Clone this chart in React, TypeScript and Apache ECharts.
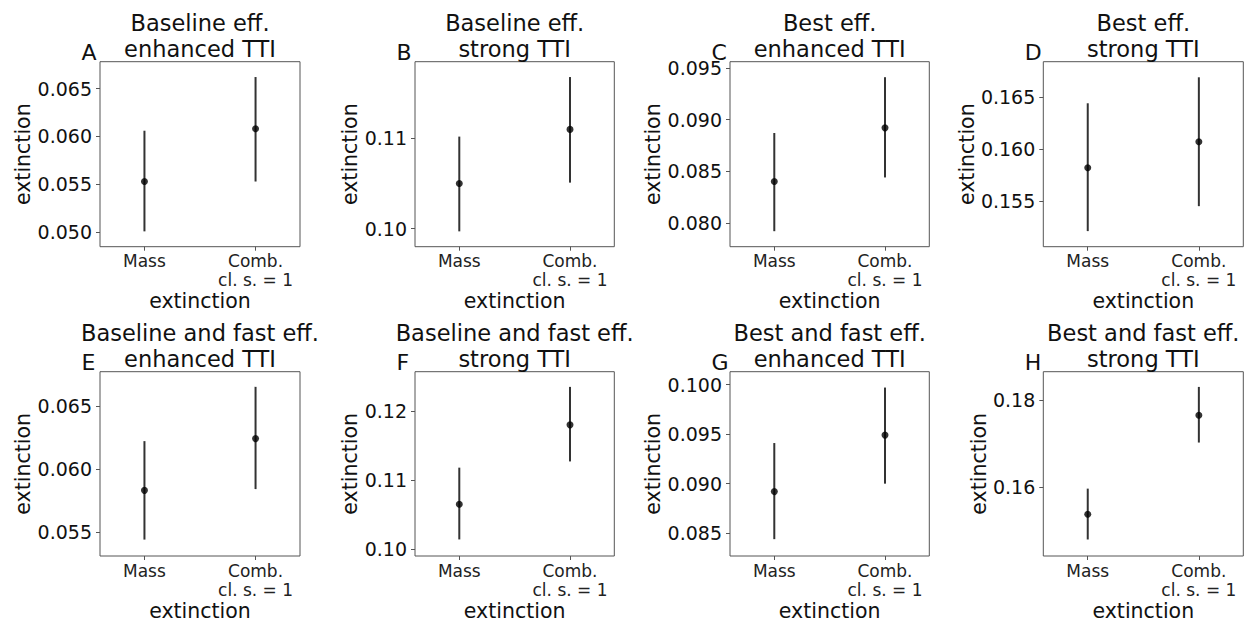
import React, { useEffect, useRef } from "react";
import * as echarts from "echarts";

const titles = [
  "Baseline eff.\nenhanced TTI",
  "Baseline eff.\nstrong TTI",
  "Best eff.\nenhanced TTI",
  "Best eff.\nstrong TTI",
  "Baseline and fast eff.\nenhanced TTI",
  "Baseline and fast eff.\nstrong TTI",
  "Best and fast eff.\nenhanced TTI",
  "Best and fast eff.\nstrong TTI",
];
const letters = ["A", "B", "C", "D", "E", "F", "G", "H"];
const categories = ["Mass", "Comb.\ncl. s. = 1"];
const axisName = "extinction";

const massMean = [0.0553, 0.105, 0.084, 0.1582, 0.0583, 0.1065, 0.0892, 0.1537];
const massLow = [0.0501, 0.0997, 0.0792, 0.1521, 0.0544, 0.1014, 0.0844, 0.1479];
const massHigh = [0.0606, 0.1102, 0.0887, 0.1644, 0.0622, 0.1118, 0.0941, 0.1596];
const combMean = [0.0608, 0.111, 0.0892, 0.1607, 0.0624, 0.118, 0.0949, 0.1765];
const combLow = [0.0553, 0.1051, 0.0844, 0.1545, 0.0584, 0.1127, 0.09, 0.1702];
const combHigh = [0.0662, 0.1168, 0.0941, 0.1669, 0.0665, 0.1235, 0.0997, 0.183];

const yMins = [0.0485, 0.098, 0.0777, 0.1506, 0.0531, 0.099, 0.0827, 0.1441];
const yMaxs = [0.0678, 0.1185, 0.0956, 0.1684, 0.0677, 0.1257, 0.1013, 0.1865];
const yTicks = [
  ["0.050", "0.055", "0.060", "0.065"],
  ["0.10", "0.11"],
  ["0.080", "0.085", "0.090", "0.095"],
  ["0.155", "0.160", "0.165"],
  ["0.055", "0.060", "0.065"],
  ["0.10", "0.11", "0.12"],
  ["0.085", "0.090", "0.095", "0.100"],
  ["0.16", "0.18"],
];

const FONT = "DejaVu Sans";
const gridLefts = [100, 415, 730, 1043.3];
const gridWidths = [200, 199.3, 199.3, 200];
const gridTops = [61.7, 371.7];
const gridH = 185;
const yNameGaps = [66, 53, 66, 51];

export default function App() {
  const ref = useRef<HTMLDivElement>(null);
  useEffect(() => {
    if (!ref.current) return;
    const chart = echarts.init(ref.current, null, { renderer: "svg" });
    const grids: any[] = [];
    const xAxes: any[] = [];
    const yAxes: any[] = [];
    const series: any[] = [];
    const graphics: any[] = [];
    for (let i = 0; i < 8; i++) {
      const col = i % 4;
      const row = Math.floor(i / 4);
      const left = gridLefts[col];
      const top = gridTops[row];
      const w = gridWidths[col];
      grids.push({
        left,
        top,
        width: w,
        height: gridH,
        show: true,
        borderColor: "#555",
        borderWidth: 1,
        backgroundColor: "transparent",
        containLabel: false,
      });
      const tickVals = yTicks[i].map((t) => parseFloat(t));
      xAxes.push({
        type: "value",
        gridIndex: i,
        min: -0.4,
        max: 1.4,
        splitLine: { show: false },
        axisLine: { show: false, onZero: false },
        axisTick: {
          show: true,
          customValues: [0, 1],
          length: 4,
          lineStyle: { color: "#555", width: 1 },
        },
        axisLabel: {
          customValues: [0, 1],
          formatter: (v: number) => categories[Math.round(v)],
          fontFamily: FONT,
          fontSize: 17,
          lineHeight: 19,
          color: "#222",
          margin: 5,
        },
        name: axisName,
        nameLocation: "middle",
        nameGap: 44,
        nameTextStyle: { fontFamily: FONT, fontSize: 20.5, color: "#111" },
      });
      yAxes.push({
        type: "value",
        gridIndex: i,
        min: yMins[i],
        max: yMaxs[i],
        splitLine: { show: false },
        axisLine: { show: false, onZero: false },
        axisTick: {
          show: true,
          customValues: tickVals,
          length: 4,
          lineStyle: { color: "#555", width: 1 },
        },
        axisLabel: {
          customValues: tickVals,
          formatter: (v: number) => {
            const idx = tickVals.findIndex((t) => Math.abs(t - v) < 1e-9);
            return idx >= 0 ? yTicks[i][idx] : "";
          },
          fontFamily: FONT,
          fontSize: 19,
          color: "#111",
          margin: 8,
        },
        name: axisName,
        nameLocation: "middle",
        nameGap: yNameGaps[col],
        nameTextStyle: { fontFamily: FONT, fontSize: 20.5, color: "#111" },
      });
      series.push({
        type: "custom",
        xAxisIndex: i,
        yAxisIndex: i,
        data: [
          [0, massLow[i], massHigh[i]],
          [1, combLow[i], combHigh[i]],
        ],
        encode: { x: 0, y: [1, 2] },
        renderItem: (params: any, api: any) => {
          const x = api.value(0);
          const p1 = api.coord([x, api.value(1)]);
          const p2 = api.coord([x, api.value(2)]);
          return {
            type: "line",
            shape: { x1: p1[0], y1: p1[1], x2: p2[0], y2: p2[1] },
            style: { stroke: "#333", lineWidth: 2 },
          };
        },
        silent: true,
      });
      series.push({
        type: "scatter",
        xAxisIndex: i,
        yAxisIndex: i,
        data: [
          [0, massMean[i]],
          [1, combMean[i]],
        ],
        symbol: "circle",
        symbolSize: 7,
        itemStyle: { color: "#000" },
        silent: true,
        z: 3,
      });
      graphics.push({
        type: "text",
        x: left + w / 2,
        y: top,
        style: {
          text: titles[i],
          font: `22.5px "${FONT}"`,
          lineHeight: 25.5,
          fill: "#111",
          textAlign: "center",
          textVerticalAlign: "bottom",
        },
      });
      graphics.push({
        type: "text",
        x: left - 18.5,
        y: top + 1.5,
        style: {
          text: letters[i],
          font: `22px "${FONT}"`,
          fill: "#111",
          textAlign: "left",
          textVerticalAlign: "bottom",
        },
      });
    }
    chart.setOption({
      animation: false,
      backgroundColor: "#fff",
      grid: grids,
      xAxis: xAxes,
      yAxis: yAxes,
      series,
      graphic: graphics,
    });
    return () => chart.dispose();
  }, []);
  return (
    <div
      ref={ref}
      style={{ position: "absolute", left: 0, top: 0, width: 1249, height: 622 }}
    />
  );
}
